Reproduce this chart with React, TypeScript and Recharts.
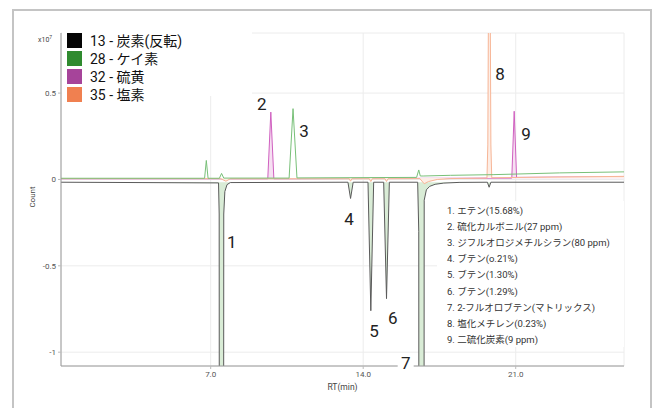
import {
  ComposedChart, Area, Line, XAxis, YAxis, CartesianGrid, ReferenceDot,
} from 'recharts';

const FONT = "Roboto, 'Noto Sans CJK JP', sans-serif";

// RT (min) and count (x10^7) for each trace
const carbonRt = [0.13, 7.36, 7.39, 7.42, 7.57, 7.6, 7.65, 7.75, 7.9, 13.3, 13.42, 13.54, 14.22, 14.35, 14.48, 14.94, 15.07, 15.2, 16.5, 16.55, 16.58, 16.76, 16.8, 16.9, 17.05, 17.3, 17.7, 18.4, 19.7, 19.78, 19.86, 25.97];
const carbonCount = [-0.016, -0.02, -0.2, -8, -8, -0.2, -0.07, -0.03, -0.018, -0.016, -0.11, -0.016, -0.016, -0.76, -0.016, -0.016, -0.69, -0.016, -0.016, -0.3, -8, -8, -0.12, -0.06, -0.04, -0.028, -0.021, -0.017, -0.016, -0.045, -0.016, -0.016];

const siliconRt = [0.13, 6.72, 6.8, 6.88, 7.4, 7.5, 7.6, 10.6, 10.78, 10.96, 16.45, 16.55, 16.62, 16.75, 18.0, 20.0, 23.0, 25.97];
const siliconCount = [0.007, 0.007, 0.11, 0.007, 0.007, 0.035, 0.008, 0.008, 0.41, 0.009, 0.012, 0.055, 0.02, 0.02, 0.024, 0.028, 0.038, 0.044];

const sulfurRt = [0.13, 9.62, 9.76, 9.9, 20.82, 20.93, 21.04, 25.97];
const sulfurCount = [0.004, 0.004, 0.39, 0.004, 0.008, 0.395, 0.012, 0.016];

const chlorineRt = [0.13, 7.45, 7.7, 7.9, 13.36, 13.42, 13.48, 14.28, 14.35, 14.42, 15.0, 15.07, 15.14, 16.6, 16.8, 17.0, 17.4, 18.0, 19.68, 19.72, 19.76, 19.82, 19.86, 19.9, 25.97];
const chlorineCount = [0.005, 0.005, -0.01, 0.004, 0.004, -0.01, 0.004, 0.004, -0.012, 0.004, 0.004, -0.012, 0.004, 0.005, -0.025, -0.012, 0.0, 0.005, 0.008, 0.2, 1.3, 1.3, 0.2, 0.01, 0.018];

// peak number labels
const peakNames = ['1', '2', '3', '4', '5', '6', '7', '8', '9'];
const peakLabelRt = [7.97, 9.34, 11.28, 13.35, 14.5, 15.36, 15.95, 20.28, 21.47];
const peakLabelCount = [-0.36, 0.437, 0.282, -0.23, -0.876, -0.80, -1.06, 0.61, 0.262];

const legendNames = ['13 - 炭素(反転)', '28 - ケイ素', '32 - 硫黄', '35 - 塩素'];
const legendColors = ['#050505', '#2f8a2f', '#a6449a', '#f08050'];

const peakList = [
  '1. エテン(15.68%)',
  '2. 硫化カルボニル(27 ppm)',
  '3. ジフルオロジメチルシラン(80 ppm)',
  '4. ブテン(o.21%)',
  '5. ブテン(1.30%)',
  '6. ブテン(1.29%)',
  '7. 2-フルオロブテン(マトリックス)',
  '8. 塩化メチレン(0.23%)',
  '9. 二硫化炭素(9 ppm)',
];

const xTicks = [7, 14, 21];
const yTicks = [0.5, 0, -0.5, -1];

const toPoints = (rt: number[], v: number[]) => rt.map((r, i) => ({ rt: r, v: v[i] }));

const carbon = toPoints(carbonRt, carbonCount);
const silicon = toPoints(siliconRt, siliconCount);
const sulfur = toPoints(sulfurRt, sulfurCount);
const chlorine = toPoints(chlorineRt, chlorineCount);

function PeakLabel(props: any) {
  const { viewBox, value, boxed } = props;
  const cx = viewBox.x + (viewBox.width || 0) / 2;
  const cy = viewBox.y + (viewBox.height || 0) / 2;
  return (
    <g>
      {boxed && <rect x={cx - 8} y={cy - 9} width={16} height={18} fill="#fff" />}
      <text x={cx} y={cy} textAnchor="middle" dominantBaseline="central"
        fontFamily={FONT} fontSize={17} fill="#222">{value}</text>
    </g>
  );
}

export default function App() {
  return (
    <div style={{ position: 'absolute', left: 0, top: 0, width: 654, height: 408, overflow: 'hidden', background: '#fff' }}>
      <div style={{
        position: 'absolute', left: 12, top: 9, width: 636, height: 420,
        border: '2px solid #c4c4c4', borderBottom: 'none',
      }} />

      <div style={{ position: 'absolute', left: 38, top: 34, fontFamily: FONT, fontSize: 7, color: '#444' }}>
        x10<sup style={{ fontSize: 5 }}>7</sup>
      </div>
      <div style={{
        position: 'absolute', left: 32, top: 197, fontFamily: FONT, fontSize: 8, color: '#444',
        transform: 'translate(-50%, -50%) rotate(-90deg)', whiteSpace: 'nowrap',
      }}>
        Count
      </div>

      <div style={{ position: 'absolute', left: 0, top: 0 }}>
        <ComposedChart width={654} height={408} margin={{ top: 33, right: 30, bottom: 12, left: 31 }}>
          <CartesianGrid stroke="#ececec" strokeWidth={1} />
          <XAxis
            dataKey="rt"
            type="number"
            domain={[0.13, 25.97]}
            allowDataOverflow
            ticks={xTicks}
            tickFormatter={(v: number) => v.toFixed(1)}
            height={30}
            tickSize={3}
            tick={{ fontFamily: FONT, fontSize: 8, fill: '#555' }}
            axisLine={{ stroke: '#9a9a9a' }}
            tickLine={{ stroke: '#bbb' }}
            label={{ value: 'RT(min)', position: 'insideBottom', offset: 6, fontFamily: FONT, fontSize: 8.5, fill: '#444' }}
          />
          <YAxis
            dataKey="v"
            type="number"
            domain={[-1.08, 0.848]}
            allowDataOverflow
            ticks={yTicks}
            width={30}
            tickSize={3}
            tick={{ fontFamily: FONT, fontSize: 8, fill: '#555' }}
            axisLine={{ stroke: '#9a9a9a' }}
            tickLine={{ stroke: '#bbb' }}
          />
          <Area data={carbon} dataKey="v" type="linear" baseValue={-0.016}
            stroke="#5a5a5a" strokeWidth={1} fill="#d9ecd6" fillOpacity={1}
            dot={false} activeDot={false} isAnimationActive={false} />
          <Area data={sulfur} dataKey="v" type="linear" baseValue={0.006}
            stroke="#d060c0" strokeWidth={1} fill="#f6e0f2" fillOpacity={1}
            dot={false} activeDot={false} isAnimationActive={false} />
          <Area data={chlorine} dataKey="v" type="linear" baseValue={0.008}
            stroke="#f7b596" strokeWidth={1} fill="#fdeee6" fillOpacity={1}
            dot={false} activeDot={false} isAnimationActive={false} />
          <Line data={silicon} dataKey="v" type="linear"
            stroke="#78c078" strokeWidth={1}
            dot={false} activeDot={false} isAnimationActive={false} />
          {peakNames.map((n, i) => (
            <ReferenceDot key={n} x={peakLabelRt[i]} y={peakLabelCount[i]} r={0}
              fill="none" stroke="none"
              label={(p: any) => <PeakLabel {...p} value={n} boxed={n === '7'} />} />
          ))}
        </ComposedChart>
      </div>

      <div style={{ position: 'absolute', left: 62, top: 30, width: 190, height: 66, background: '#fff' }}>
        {legendNames.map((name, i) => (
          <div key={name} style={{ position: 'absolute', left: 5, top: 2 + i * 18, height: 16, display: 'flex', alignItems: 'center' }}>
            <div style={{ width: 15, height: 15, background: legendColors[i] }} />
            <span style={{ marginLeft: 8, fontFamily: FONT, fontSize: 14, color: '#111', whiteSpace: 'nowrap' }}>{name}</span>
          </div>
        ))}
      </div>

      <div style={{ position: 'absolute', left: 437, top: 201, width: 187, height: 146, background: '#fff' }}>
        {peakList.map((t, i) => (
          <div key={t} style={{
            position: 'absolute', left: 10, top: 3 + i * 16.1, fontFamily: FONT, fontSize: 9.5,
            color: '#333', whiteSpace: 'nowrap', lineHeight: '14px',
          }}>{t}</div>
        ))}
      </div>
    </div>
  );
}
